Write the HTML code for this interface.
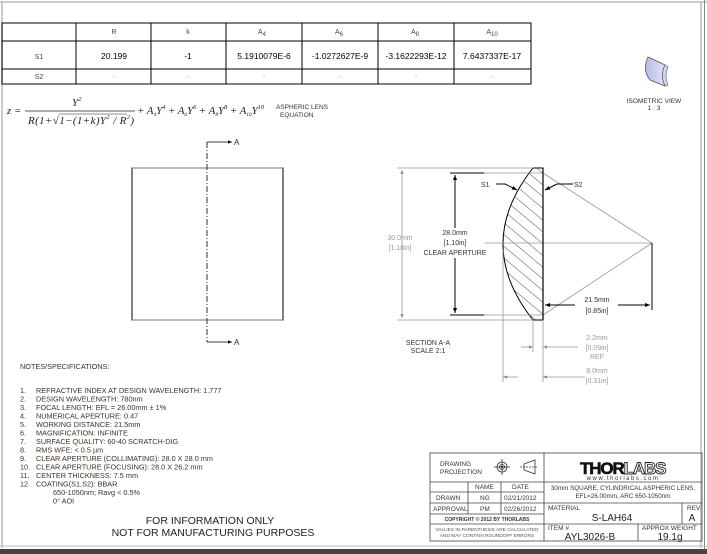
<!DOCTYPE html>
<html><head><meta charset="utf-8"><style>
html,body{margin:0;padding:0;background:#fff}
svg{display:block}
text{font-family:"Liberation Sans",sans-serif}
.s{font-family:"Liberation Serif",serif;font-style:italic}
</style></head><body>
<svg width="707" height="554" viewBox="0 0 707 554" xmlns="http://www.w3.org/2000/svg">
<defs>
<pattern id="h" patternUnits="userSpaceOnUse" width="9" height="9" patternTransform="rotate(-50)">
<line x1="0" y1="0" x2="0" y2="9" stroke="#222" stroke-width="0.8"/>
</pattern>
<marker id="ar" viewBox="0 0 10 10" refX="10" refY="5" markerWidth="7" markerHeight="5" orient="auto-start-reverse"><path d="M0,1 L10,5 L0,9Z" fill="#000"/></marker>
<marker id="ag" viewBox="0 0 10 10" refX="10" refY="5" markerWidth="7" markerHeight="5" orient="auto-start-reverse"><path d="M0,1 L10,5 L0,9Z" fill="#888"/></marker>
<linearGradient id="iso" x1="0" x2="1"><stop offset="0" stop-color="#b8bde8"/><stop offset="1" stop-color="#dfe1f7"/></linearGradient>
</defs>
<rect x="0" y="0" width="707" height="554" fill="#fff"/>
<line x1="0" y1="2" x2="707" y2="2" stroke="#bbb" stroke-width="1.5"/>
<line x1="2" y1="2" x2="2" y2="548" stroke="#bbb" stroke-width="1.5"/>
<line x1="701" y1="2" x2="701" y2="548" stroke="#bbb" stroke-width="1.5"/>
<line x1="704.5" y1="0" x2="704.5" y2="554" stroke="#888" stroke-width="1"/>
<line x1="0" y1="546" x2="707" y2="546" stroke="#bbb" stroke-width="1"/>
<rect x="0" y="549" width="707" height="5" fill="#444"/>

<g stroke="#000" stroke-width="1" fill="none">
<rect x="2" y="23" width="529" height="61"/>
<line x1="2" y1="41" x2="531" y2="41"/><line x1="2" y1="69" x2="531" y2="69"/>
<line x1="76" y1="23" x2="76" y2="84"/><line x1="151" y1="23" x2="151" y2="84"/>
<line x1="226" y1="23" x2="226" y2="84"/><line x1="302" y1="23" x2="302" y2="84"/>
<line x1="378" y1="23" x2="378" y2="84"/><line x1="454" y1="23" x2="454" y2="84"/>
</g>
<g font-size="7" fill="#444" text-anchor="middle">
<text x="114" y="34">R</text><text x="188" y="34">k</text>
<text x="262" y="34">A<tspan font-size="6" dy="2">4</tspan></text>
<text x="339" y="34">A<tspan font-size="6" dy="2">6</tspan></text>
<text x="415" y="34">A<tspan font-size="6" dy="2">8</tspan></text>
<text x="492" y="34">A<tspan font-size="6" dy="2">10</tspan></text>
<text x="39" y="59">S1</text><text x="39" y="79">S2</text>
</g>
<g font-size="8.5" fill="#000" text-anchor="middle">
<text x="114" y="59">20.199</text><text x="188" y="59">-1</text>
<text x="264" y="59">5.1910079E-6</text><text x="340" y="59">-1.0272627E-9</text>
<text x="416" y="59">-3.1622293E-12</text><text x="492" y="59">7.6437337E-17</text>
</g>
<g font-size="7" fill="#999" text-anchor="middle">
<text x="114" y="79">-</text><text x="188" y="79">-</text><text x="264" y="79">-</text><text x="340" y="79">-</text><text x="416" y="79">-</text><text x="492" y="79">-</text>
</g>

<g fill="#222" font-size="11">
<text class="s" x="7" y="114">z =</text>
<text class="s" x="72" y="106">Y<tspan font-size="6.5" dy="-5">2</tspan></text>
<line x1="25" y1="111" x2="135" y2="111" stroke="#222" stroke-width="0.8"/>
<text class="s" x="28" y="124" textLength="106">R(1+√1−(1+k)Y<tspan font-size="6.5" dy="-5">2</tspan><tspan dy="5"> / R</tspan><tspan font-size="6.5" dy="-5">2</tspan><tspan dy="5">)</tspan></text>
<line x1="59" y1="114" x2="127" y2="114" stroke="#222" stroke-width="0.6"/>
<text class="s" x="137" y="114" textLength="127">+ A<tspan font-size="5.5" dy="2">4</tspan><tspan dy="-2">Y</tspan><tspan font-size="6.5" dy="-5">4</tspan><tspan dy="5"> + A</tspan><tspan font-size="5.5" dy="2">6</tspan><tspan dy="-2">Y</tspan><tspan font-size="6.5" dy="-5">6</tspan><tspan dy="5"> + A</tspan><tspan font-size="5.5" dy="2">8</tspan><tspan dy="-2">Y</tspan><tspan font-size="6.5" dy="-5">8</tspan><tspan dy="5"> + A</tspan><tspan font-size="5.5" dy="2">10</tspan><tspan dy="-2">Y</tspan><tspan font-size="6.5" dy="-5">10</tspan></text>
</g>
<g font-size="6.5" fill="#333"><text x="276" y="109">ASPHERIC LENS</text><text x="280" y="117">EQUATION</text></g>

<path d="M648,57 L665,65 Q660,75 665,86 L650,80 Q642,70 648,57Z" fill="url(#iso)" stroke="#556" stroke-width="0.8"/>
<path d="M665,65 L668,67 Q664,76 668,85 L665,86 Q660,75 665,65Z" fill="#d4d6f2" stroke="#556" stroke-width="0.6"/>
<g font-size="6.5" fill="#333" text-anchor="middle"><text x="654" y="103">ISOMETRIC VIEW</text><text x="654" y="110">1 : 3</text></g>

<rect x="132" y="168" width="151" height="152" fill="none" stroke="#000" stroke-width="1"/>
<line x1="132" y1="168" x2="283" y2="168" stroke="#777" stroke-width="1"/>
<line x1="132" y1="320" x2="283" y2="320" stroke="#777" stroke-width="1"/>
<line x1="207" y1="142" x2="207" y2="342" stroke="#000" stroke-width="0.8" stroke-dasharray="6,2,1,2"/>
<line x1="207" y1="142" x2="232" y2="142" stroke="#000" stroke-width="0.8" marker-end="url(#ar)"/>
<line x1="207" y1="342" x2="232" y2="342" stroke="#000" stroke-width="0.8" marker-end="url(#ar)"/>
<g font-size="8" fill="#333"><text x="234" y="145">A</text><text x="234" y="345">A</text></g>

<path d="M533,168 Q473,244 533,320 L543,320 L543,168Z" fill="url(#h)" stroke="#000" stroke-width="1"/>
<g stroke="#999" stroke-width="0.8" fill="none">
<line x1="397" y1="168" x2="533" y2="168"/><line x1="397" y1="320" x2="533" y2="320"/>
<line x1="484" y1="173" x2="543" y2="173"/><line x1="484" y1="315" x2="543" y2="315"/>
<line x1="485" y1="243" x2="652" y2="243"/>
<line x1="543" y1="173" x2="652" y2="243"/><line x1="543" y1="315" x2="652" y2="243"/>
<line x1="503" y1="250" x2="503" y2="382"/><line x1="533" y1="320" x2="533" y2="352"/><line x1="543" y1="320" x2="543" y2="382"/>
<line x1="402" y1="170" x2="402" y2="318" marker-start="url(#ag)" marker-end="url(#ag)"/>
<line x1="521" y1="347" x2="533" y2="347" marker-end="url(#ag)"/>
<line x1="578" y1="347" x2="543" y2="347" marker-end="url(#ag)"/>
<line x1="503" y1="377" x2="518" y2="377" marker-start="url(#ag)"/>
<line x1="585" y1="377" x2="543" y2="377" marker-end="url(#ag)"/>
</g>
<line x1="543" y1="168" x2="543" y2="320" stroke="#000" stroke-width="1.2"/>
<line x1="652" y1="243" x2="652" y2="310" stroke="#000" stroke-width="1"/>
<g stroke="#000" stroke-width="1" fill="none">
<line x1="450" y1="173" x2="484" y2="173"/><line x1="450" y1="315" x2="484" y2="315"/>
<line x1="455" y1="175" x2="455" y2="228" marker-start="url(#ar)"/>
<line x1="455" y1="258" x2="455" y2="313" marker-end="url(#ar)"/>
<line x1="575" y1="305" x2="545" y2="305" marker-end="url(#ar)"/>
<line x1="618" y1="305" x2="650" y2="305" marker-end="url(#ar)"/>
<line x1="496" y1="184" x2="505" y2="184"/><line x1="505" y1="184" x2="517" y2="190" marker-end="url(#ar)"/>
<line x1="573" y1="184" x2="557" y2="184"/><line x1="557" y1="184" x2="545" y2="190" marker-end="url(#ar)"/>
</g>
<g font-size="7" fill="#333">
<text x="481" y="187">S1</text><text x="574" y="187">S2</text>
<text x="455" y="235" text-anchor="middle">28.0mm</text>
<text x="455" y="245" text-anchor="middle">[1.10in]</text>
<text x="455" y="255" text-anchor="middle">CLEAR APERTURE</text>
<text x="597" y="302" text-anchor="middle">21.5mm</text>
<text x="597" y="313" text-anchor="middle">[0.85in]</text>
<text x="428" y="345" text-anchor="middle">SECTION A-A</text>
<text x="428" y="353" text-anchor="middle">SCALE 2:1</text>
</g>
<g font-size="7" fill="#999" text-anchor="middle">
<text x="400" y="240">30.0mm</text><text x="400" y="250">[1.18in]</text>
<text x="597" y="340">2.2mm</text><text x="597" y="350">[0.09in]</text><text x="597" y="359">REF</text>
<text x="597" y="373">8.0mm</text><text x="597" y="383">[0.31in]</text>
</g>

<g font-size="7.3" fill="#3d3128">
<text x="20" y="369">NOTES/SPECIFICATIONS:</text>
<text y="393"><tspan x="20">1.</tspan><tspan x="36">REFRACTIVE INDEX AT DESIGN WAVELENGTH: 1.777</tspan></text>
<text y="401.5"><tspan x="20">2.</tspan><tspan x="36">DESIGN WAVELENGTH: 780nm</tspan></text>
<text y="410"><tspan x="20">3.</tspan><tspan x="36">FOCAL LENGTH: EFL = 26.00mm ± 1%</tspan></text>
<text y="418.5"><tspan x="20">4.</tspan><tspan x="36">NUMERICAL APERTURE: 0.47</tspan></text>
<text y="427"><tspan x="20">5.</tspan><tspan x="36">WORKING DISTANCE: 21.5mm</tspan></text>
<text y="435.5"><tspan x="20">6.</tspan><tspan x="36">MAGNIFICATION: INFINITE</tspan></text>
<text y="444"><tspan x="20">7.</tspan><tspan x="36">SURFACE QUALITY: 60-40 SCRATCH-DIG</tspan></text>
<text y="452.5"><tspan x="20">8.</tspan><tspan x="36">RMS WFE: &lt; 0.5 µm</tspan></text>
<text y="461"><tspan x="20">9.</tspan><tspan x="36">CLEAR APERTURE (COLLIMATING): 28.0 X 28.0 mm</tspan></text>
<text y="469.5"><tspan x="20">10.</tspan><tspan x="36">CLEAR APERTURE (FOCUSING): 28.0 X 26.2 mm</tspan></text>
<text y="478"><tspan x="20">11.</tspan><tspan x="36">CENTER THICKNESS: 7.5 mm</tspan></text>
<text y="486.5"><tspan x="20">12.</tspan><tspan x="36">COATING(S1,S2): BBAR</tspan></text>
<text x="53" y="495">650-1050nm; Ravg &lt; 0.5%</text>
<text x="53" y="503.5">0° AOI</text>
</g>
<g font-size="10.5" fill="#222" text-anchor="middle">
<text x="210" y="524">FOR INFORMATION ONLY</text>
<text x="213" y="536">NOT FOR MANUFACTURING PURPOSES</text>
</g>

<g stroke="#444" stroke-width="0.8" fill="none">
<rect x="430" y="453" width="272" height="88"/>
<line x1="544" y1="453" x2="544" y2="541"/>
<line x1="430" y1="482" x2="702" y2="482"/>
<line x1="430" y1="492" x2="544" y2="492"/>
<line x1="430" y1="503" x2="702" y2="503"/>
<line x1="430" y1="514" x2="544" y2="514"/>
<line x1="430" y1="524" x2="702" y2="524"/>
<line x1="468" y1="482" x2="468" y2="514"/>
<line x1="501" y1="482" x2="501" y2="514"/>
<line x1="682" y1="503" x2="682" y2="524"/>
<line x1="638" y1="524" x2="638" y2="541"/>
</g>
<g stroke="#333" stroke-width="0.8" fill="none">
<circle cx="502" cy="467" r="5"/><circle cx="502" cy="467" r="2.5"/>
<line x1="494" y1="467" x2="510" y2="467"/><line x1="502" y1="459" x2="502" y2="475"/>
<path d="M524,464 L535,460 L535,474 L524,470Z"/><line x1="520" y1="467" x2="538" y2="467" stroke-dasharray="2,1"/>
</g>
<circle cx="502" cy="467" r="1.2" fill="#333"/>
<g font-size="6.5" fill="#333">
<text x="440" y="466">DRAWING</text><text x="440" y="474">PROJECTION</text>
<text x="475" y="489">NAME</text><text x="512" y="489">DATE</text>
<text x="436" y="500">DRAWN</text><text x="480" y="500">NG</text><text x="504" y="500">02/21/2012</text>
<text x="433" y="511">APPROVAL</text><text x="480" y="511">PM</text><text x="504" y="511">02/26/2012</text>
<text x="548" y="510">MATERIAL</text><text x="687" y="510">REV</text>
<text x="548" y="530">ITEM #</text><text x="642" y="530">APPROX WEIGHT</text>
</g>
<text x="487" y="521" font-size="5" fill="#333" text-anchor="middle" font-weight="bold">COPYRIGHT © 2012 BY THORLABS</text>
<g font-size="4.8" fill="#555" text-anchor="middle"><text x="487" y="531">VALUES IN PARENTHESIS ARE CALCULATED</text><text x="487" y="537">AND MAY CONTAIN ROUNDOFF ERRORS</text></g>
<text x="580" y="474" font-size="17" font-weight="bold" letter-spacing="-0.5" textLength="86"><tspan fill="#111" stroke="#111" stroke-width="0.6">THOR</tspan><tspan fill="#fff" stroke="#222" stroke-width="0.9">LABS</tspan></text>
<text x="623" y="480" font-size="6" fill="#333" text-anchor="middle" letter-spacing="1.5">www.thorlabs.com</text>
<g font-size="6.3" fill="#333" text-anchor="middle"><text x="623" y="490">30mm SQUARE, CYLINDRICAL ASPHERIC LENS,</text><text x="623" y="498">EFL=26.00mm, ARC 650-1050nm</text></g>
<g font-size="10" fill="#222" text-anchor="middle">
<text x="612" y="521">S-LAH64</text><text x="692" y="521">A</text>
<text x="590" y="540">AYL3026-B</text><text x="670" y="540">19.1g</text>
</g>
</svg>
</body></html>
